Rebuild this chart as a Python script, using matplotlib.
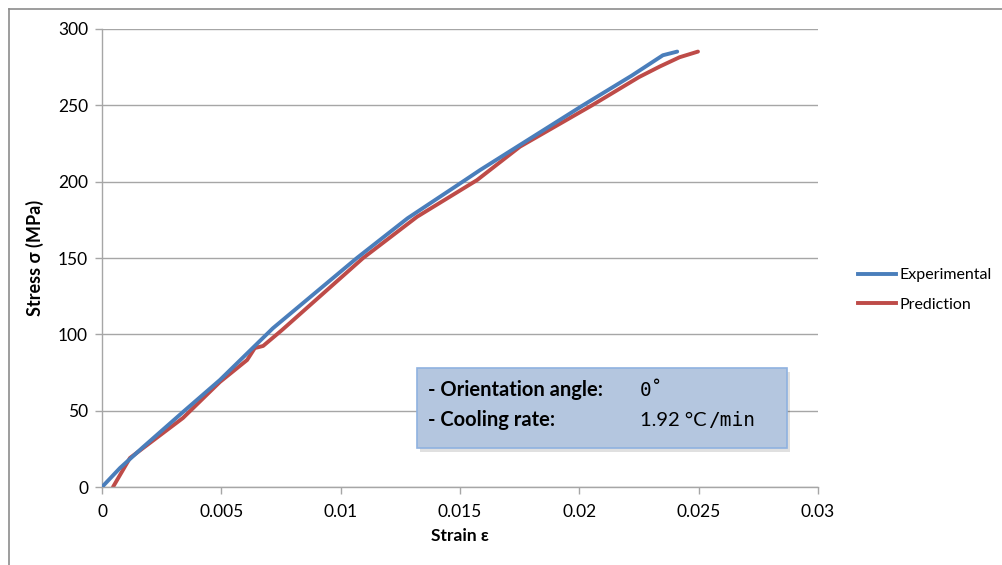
import matplotlib.pyplot as plt
from matplotlib.patches import FancyBboxPatch
from matplotlib.lines import Line2D

# Экспериментальная кривая
exp_strain = [0.0, 0.00075, 0.00171, 0.00339, 0.00494, 0.00716, 0.01068, 0.0128,
              0.01521, 0.01584, 0.02015, 0.0222, 0.0235, 0.0241]
exp_stress = [0.0, 12.4, 26.0, 49.1, 70.1, 104.0, 150.0, 176.0,
              201.0, 207.6, 250.0, 269.5, 282.8, 285.2]

# Расчётная кривая
pred_strain = [0.00046, 0.00117, 0.00189, 0.00339, 0.00494, 0.00608, 0.0064,
               0.00675, 0.00754, 0.01094, 0.0132, 0.01571, 0.01751, 0.02053,
               0.0225, 0.02338, 0.0242, 0.02497]
pred_stress = [0.0, 19.0, 27.5, 45.2, 68.8, 83.2, 91.0,
               92.4, 102.8, 150.0, 177.0, 201.0, 222.9, 250.0,
               268.5, 275.5, 281.5, 285.2]

x_ticks = [0, 0.005, 0.01, 0.015, 0.02, 0.025, 0.03]
x_tick_labels = ['0', '0.005', '0.01', '0.015', '0.02', '0.025', '0.03']
y_ticks = [0, 50, 100, 150, 200, 250, 300]

plt.rcParams['font.family'] = ['Lato', 'DejaVu Sans']

fig = plt.figure(figsize=(10.02, 5.65), dpi=100)
ax = fig.add_axes([0.1018, 0.138, 0.7146, 0.8107])

grid_c = '#a6a6a6'
ax.plot(exp_strain, exp_stress, color='#4a7ebb', lw=2.8, solid_capstyle='round',
        solid_joinstyle='round', label='Experimental', zorder=3)
ax.plot(pred_strain, pred_stress, color='#be4b48', lw=2.8, solid_capstyle='round',
        solid_joinstyle='round', label='Prediction', zorder=2)

ax.set_xlim(0, 0.03)
ax.set_ylim(0, 300)
ax.set_xticks(x_ticks)
ax.set_xticklabels(x_tick_labels)
ax.set_yticks(y_ticks)
ax.yaxis.grid(True, color=grid_c, lw=1)
ax.set_axisbelow(True)
for s in ['top', 'right']:
    ax.spines[s].set_visible(False)
for s in ['left', 'bottom']:
    ax.spines[s].set_color(grid_c)
    ax.spines[s].set_linewidth(1)
ax.tick_params(axis='both', colors=grid_c, labelcolor='black', labelsize=12.5,
               length=5, width=1, direction='out')
ax.tick_params(axis='x', pad=7)
ax.tick_params(axis='y', pad=5)

ax.set_xlabel('Strain ε', fontsize=12.5, fontweight='bold', labelpad=6)
ax.set_ylabel('Stress σ (MPa)', fontsize=13, fontweight='bold', labelpad=10)

# Легенда справа от графика
handles = [Line2D([], [], color='#4a7ebb', lw=2.8),
           Line2D([], [], color='#be4b48', lw=2.8)]
fig.legend(handles, ['Experimental', 'Prediction'], loc='center left',
           bbox_to_anchor=(858 / 1002, (565 - 290) / 565), frameon=False,
           fontsize=11.5, borderpad=0, borderaxespad=0,
           handlelength=2.4, handletextpad=0.2, labelspacing=0.95)

# Блок с параметрами
shadow = FancyBboxPatch((420 / 1002, (565 - 452) / 565), 370 / 1002, 80 / 565,
                        boxstyle='square,pad=0', transform=fig.transFigure,
                        facecolor='#000000', alpha=0.12, edgecolor='none', zorder=4)
box = FancyBboxPatch((417 / 1002, (565 - 448) / 565), 370 / 1002, 80 / 565,
                     boxstyle='square,pad=0', transform=fig.transFigure,
                     facecolor='#b4c6df', edgecolor='#8fb2e0', lw=1.2, zorder=5)
fig.patches.extend([shadow, box])
fig.text(428 / 1002, (565 - 390) / 565, '- Orientation angle:', fontsize=14.5,
         fontweight='bold', va='center', zorder=6)
fig.text(640 / 1002, (565 - 390) / 565, '0˚', fontsize=14, va='center',
         family='DejaVu Sans Mono', zorder=6)
fig.text(428 / 1002, (565 - 420) / 565, '- Cooling rate:', fontsize=14.5,
         fontweight='bold', va='center', zorder=6)
fig.text(640 / 1002, (565 - 420) / 565, '1.92 °C', fontsize=14.5, va='center', zorder=6)
fig.text(708 / 1002, (565 - 420) / 565, '/min', fontsize=14, va='center',
         family='DejaVu Sans Mono', zorder=6)

# Рамка вокруг области диаграммы
fig.add_artist(Line2D([9 / 1002, 9 / 1002], [0, (565 - 9) / 565],
                      transform=fig.transFigure, color='#8c8c8c', lw=1.2))
fig.add_artist(Line2D([9 / 1002, 1], [(565 - 9) / 565, (565 - 9) / 565],
                      transform=fig.transFigure, color='#8c8c8c', lw=1.2))

fig.savefig('out.png', dpi=100)
